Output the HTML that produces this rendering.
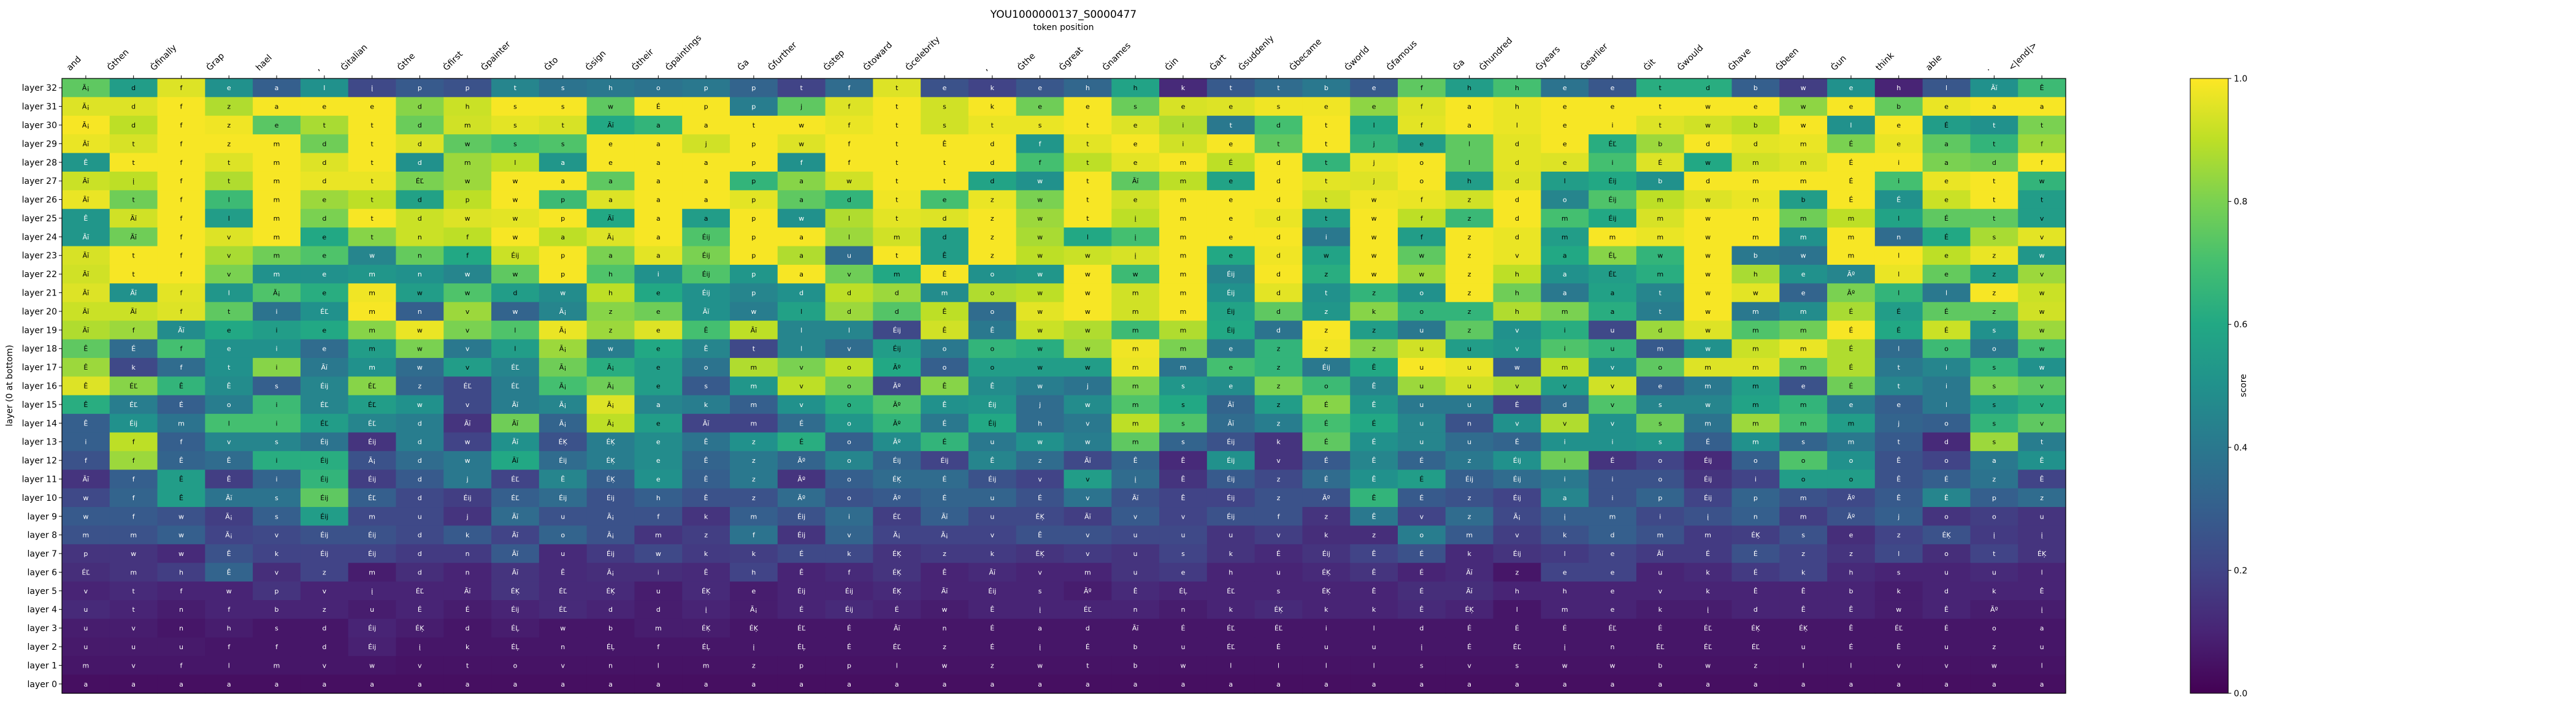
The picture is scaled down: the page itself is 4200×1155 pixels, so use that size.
<!DOCTYPE html>
<html><head><meta charset="utf-8"><title>YOU1000000137_S0000477</title>
<style>
html,body{margin:0;padding:0;background:#fff;}
svg{display:block;}
text{font-family:"DejaVu Sans","Liberation Sans",sans-serif;}
</style></head>
<body>
<svg id="chart" xmlns="http://www.w3.org/2000/svg" width="4200" height="1155" viewBox="0 0 4200 1155">
<text x="1734" y="29" font-size="17" text-anchor="middle">YOU1000000137_S0000477</text>
<text x="1734" y="49" font-size="14" text-anchor="middle">token position</text>
<text x="0" y="0" font-size="14" text-anchor="middle" transform="translate(20,629) rotate(-90)">layer (0 at bottom)</text>
<text x="0" y="0" font-size="14" text-anchor="middle" transform="translate(3662,629) rotate(-90)">score</text>
<g id="cells"></g>
<g id="xticks"></g>
<g id="yticks"></g>
<g id="cbar"></g>
</svg>
<script>
const tokens = ["and","Ġthen","Ġfinally","Ġrap","hael",",","Ġitalian","Ġthe","Ġfirst","Ġpainter","Ġto","Ġsign","Ġtheir","Ġpaintings","Ġa","Ġfurther","Ġstep","Ġtoward","Ġcelebrity",",","Ġthe","Ġgreat","Ġnames","Ġin","Ġart","Ġsuddenly","Ġbecame","Ġworld","Ġfamous","Ġa","Ġhundred","Ġyears","Ġearlier","Ġit","Ġwould","Ġhave","Ġbeen","Ġun","think","able",".","<|end|>"];
const layerNumbers = [32,31,30,29,28,27,26,25,24,23,22,21,20,19,18,17,16,15,14,13,12,11,10,9,8,7,6,5,4,3,2,1,0];
const colorbarTicks = [0.0,0.2,0.4,0.6,0.8,1.0];
const scores = [
[0.75,0.55,0.95,0.5,0.3,0.5,0.22,0.28,0.25,0.45,0.38,0.4,0.38,0.4, 0.32,0.2,0.35,0.95,0.25,0.2,0.27,0.33,0.58,0.12,0.28,0.35,0.4,0.28, 0.75,0.55,0.7,0.38,0.27,0.62,0.62,0.3,0.18,0.5,0.1,0.27,0.5,0.68],
[0.95,0.95,0.99,0.88,0.99,0.99,0.99,0.82,0.92,0.99,0.99,0.75,0.99,0.99, 0.42,0.75,0.95,0.99,0.93,0.99,0.78,0.99,0.77,0.94,0.95,0.98,0.98,0.83, 0.95,0.99,0.97,0.99,0.99,0.99,0.99,0.99,0.83,0.99,0.76,0.97,0.99,0.99],
[0.99,0.9,0.99,0.98,0.74,0.87,0.99,0.77,0.93,0.96,0.94,0.6,0.65,0.99, 0.99,0.99,0.97,0.99,0.93,0.97,0.97,0.99,0.95,0.88,0.4,0.7,0.99,0.6, 0.96,0.99,0.97,0.99,0.99,0.95,0.93,0.9,0.99,0.5,0.99,0.55,0.5,0.8],
[0.97,0.94,0.99,0.99,0.99,0.78,0.99,0.95,0.75,0.7,0.72,0.99,0.99,0.93, 0.99,0.95,0.99,0.99,0.99,0.99,0.52,0.96,0.99,0.93,0.99,0.75,0.99,0.65, 0.55,0.75,0.96,0.99,0.62,0.85,0.99,0.96,0.97,0.8,0.97,0.75,0.65,0.85],
[0.52,0.99,0.99,0.95,0.99,0.95,0.99,0.5,0.85,0.9,0.52,0.99,0.99,0.99, 0.99,0.5,0.99,0.99,0.99,0.99,0.7,0.9,0.96,0.99,0.9,0.99,0.65,0.97, 0.99,0.75,0.96,0.95,0.7,0.95,0.6,0.93,0.95,0.99,0.99,0.8,0.78,0.99],
[0.92,0.9,0.99,0.88,0.99,0.97,0.97,0.8,0.85,0.99,0.99,0.75,0.99,0.99, 0.65,0.82,0.93,0.99,0.99,0.58,0.5,0.99,0.75,0.9,0.58,0.99,0.96,0.95, 0.99,0.55,0.95,0.55,0.6,0.5,0.99,0.99,0.99,0.99,0.7,0.97,0.99,0.65],
[0.97,0.78,0.99,0.68,0.99,0.85,0.9,0.57,0.9,0.99,0.68,0.95,0.99,0.99, 0.96,0.75,0.65,0.98,0.7,0.97,0.8,0.99,0.93,0.99,0.99,0.99,0.93,0.98, 0.97,0.93,0.99,0.45,0.72,0.9,0.95,0.97,0.55,0.99,0.5,0.92,0.99,0.55],
[0.52,0.93,0.99,0.55,0.99,0.8,0.99,0.92,0.95,0.96,0.99,0.6,0.99,0.55, 0.99,0.5,0.88,0.96,0.95,0.99,0.85,0.99,0.9,0.99,0.99,0.97,0.55,0.99, 0.9,0.67,0.99,0.7,0.6,0.94,0.99,0.99,0.78,0.9,0.58,0.75,0.75,0.55],
[0.52,0.78,0.99,0.95,0.99,0.6,0.82,0.92,0.9,0.99,0.9,0.95,0.99,0.72, 0.99,0.99,0.85,0.93,0.55,0.99,0.87,0.6,0.7,0.99,0.99,0.99,0.4,0.99, 0.55,0.99,0.97,0.55,0.99,0.97,0.99,0.99,0.5,0.99,0.35,0.6,0.87,0.96],
[0.94,0.99,0.99,0.87,0.78,0.72,0.45,0.76,0.6,0.92,0.99,0.8,0.96,0.8, 0.99,0.88,0.35,0.99,0.55,0.99,0.9,0.92,0.94,0.99,0.6,0.98,0.58,0.99, 0.75,0.99,0.97,0.6,0.82,0.65,0.99,0.4,0.38,0.99,0.99,0.9,0.97,0.52],
[0.93,0.99,0.99,0.8,0.5,0.5,0.52,0.5,0.45,0.75,0.99,0.72,0.5,0.72, 0.52,0.99,0.78,0.6,0.99,0.5,0.52,0.99,0.68,0.99,0.45,0.99,0.62,0.99, 0.85,0.99,0.9,0.5,0.55,0.62,0.99,0.87,0.5,0.45,0.97,0.76,0.55,0.85],
[0.95,0.5,0.96,0.52,0.72,0.62,0.98,0.55,0.72,0.55,0.48,0.9,0.6,0.5, 0.45,0.5,0.9,0.85,0.48,0.88,0.9,0.99,0.93,0.99,0.5,0.96,0.5,0.65, 0.5,0.99,0.78,0.4,0.57,0.45,0.99,0.96,0.32,0.8,0.65,0.4,0.99,0.92],
[0.92,0.92,0.95,0.75,0.38,0.5,0.99,0.3,0.85,0.32,0.45,0.82,0.78,0.5, 0.42,0.57,0.85,0.73,0.9,0.35,0.96,0.99,0.93,0.99,0.58,0.75,0.52,0.82, 0.65,0.65,0.88,0.8,0.62,0.42,0.99,0.4,0.48,0.87,0.55,0.75,0.75,0.93],
[0.88,0.85,0.48,0.6,0.55,0.6,0.82,0.97,0.8,0.72,0.97,0.85,0.95,0.7, 0.9,0.45,0.45,0.22,0.93,0.4,0.92,0.88,0.68,0.88,0.6,0.38,0.99,0.55, 0.4,0.75,0.5,0.62,0.22,0.85,0.95,0.72,0.78,0.99,0.6,0.92,0.5,0.85],
[0.75,0.35,0.7,0.5,0.5,0.35,0.55,0.8,0.4,0.55,0.85,0.42,0.6,0.45, 0.22,0.45,0.35,0.55,0.4,0.65,0.62,0.85,0.98,0.8,0.4,0.65,0.98,0.82, 0.93,0.55,0.52,0.72,0.65,0.28,0.5,0.92,0.97,0.88,0.35,0.68,0.4,0.7],
[0.85,0.22,0.35,0.5,0.82,0.4,0.5,0.35,0.55,0.45,0.78,0.62,0.55,0.38, 0.88,0.8,0.9,0.6,0.3,0.55,0.55,0.55,0.97,0.38,0.7,0.65,0.4,0.6, 0.99,0.97,0.28,0.9,0.5,0.75,0.95,0.95,0.75,0.88,0.4,0.45,0.65,0.5],
[0.95,0.82,0.65,0.48,0.3,0.45,0.82,0.32,0.22,0.42,0.7,0.78,0.55,0.28, 0.52,0.9,0.78,0.22,0.82,0.48,0.42,0.38,0.8,0.52,0.48,0.8,0.68,0.45, 0.85,0.93,0.88,0.55,0.93,0.3,0.4,0.55,0.25,0.78,0.45,0.4,0.8,0.75],
[0.62,0.42,0.3,0.42,0.68,0.45,0.55,0.5,0.22,0.42,0.45,0.95,0.45,0.42, 0.3,0.5,0.62,0.72,0.5,0.52,0.35,0.48,0.72,0.6,0.32,0.55,0.82,0.52, 0.4,0.4,0.2,0.35,0.72,0.45,0.45,0.58,0.65,0.42,0.3,0.4,0.55,0.62],
[0.3,0.5,0.38,0.7,0.7,0.55,0.45,0.42,0.15,0.78,0.32,0.9,0.55,0.2, 0.2,0.35,0.52,0.65,0.4,0.6,0.35,0.4,0.9,0.72,0.35,0.42,0.7,0.6, 0.45,0.25,0.5,0.88,0.5,0.78,0.38,0.85,0.7,0.55,0.32,0.3,0.65,0.75],
[0.3,0.9,0.3,0.45,0.45,0.38,0.15,0.42,0.2,0.5,0.25,0.42,0.48,0.38, 0.5,0.62,0.3,0.48,0.65,0.4,0.5,0.42,0.75,0.32,0.25,0.15,0.75,0.5, 0.45,0.35,0.32,0.5,0.5,0.52,0.3,0.5,0.32,0.4,0.28,0.12,0.85,0.42],
[0.25,0.85,0.32,0.35,0.62,0.62,0.25,0.35,0.4,0.6,0.35,0.42,0.48,0.32, 0.4,0.32,0.45,0.32,0.2,0.45,0.35,0.22,0.32,0.12,0.5,0.15,0.28,0.45, 0.32,0.4,0.5,0.78,0.15,0.2,0.12,0.3,0.72,0.5,0.25,0.2,0.4,0.5],
[0.15,0.3,0.55,0.18,0.32,0.65,0.18,0.28,0.4,0.2,0.45,0.3,0.5,0.3, 0.4,0.15,0.3,0.35,0.35,0.25,0.2,0.55,0.35,0.15,0.28,0.22,0.35,0.5, 0.55,0.3,0.35,0.4,0.25,0.25,0.15,0.2,0.55,0.55,0.25,0.3,0.38,0.2],
[0.22,0.32,0.55,0.38,0.38,0.75,0.3,0.22,0.18,0.3,0.35,0.25,0.3,0.25, 0.25,0.35,0.25,0.28,0.32,0.32,0.25,0.38,0.25,0.2,0.2,0.25,0.25,0.65, 0.28,0.25,0.2,0.45,0.25,0.32,0.2,0.32,0.25,0.22,0.28,0.45,0.3,0.35],
[0.28,0.28,0.25,0.18,0.3,0.55,0.22,0.22,0.15,0.35,0.25,0.25,0.25,0.15, 0.3,0.25,0.35,0.18,0.3,0.22,0.22,0.18,0.28,0.2,0.25,0.25,0.15,0.4, 0.2,0.35,0.22,0.3,0.3,0.22,0.25,0.3,0.18,0.25,0.3,0.15,0.18,0.15],
[0.25,0.25,0.3,0.2,0.22,0.25,0.25,0.22,0.28,0.2,0.32,0.25,0.15,0.18, 0.38,0.15,0.32,0.2,0.2,0.2,0.25,0.25,0.22,0.22,0.15,0.18,0.13,0.13, 0.42,0.28,0.18,0.25,0.3,0.25,0.17,0.18,0.25,0.13,0.2,0.25,0.17,0.15],
[0.15,0.15,0.12,0.25,0.2,0.2,0.2,0.17,0.17,0.28,0.12,0.17,0.22,0.17, 0.18,0.22,0.22,0.15,0.17,0.17,0.15,0.17,0.15,0.2,0.15,0.12,0.15,0.2, 0.25,0.12,0.15,0.17,0.2,0.17,0.17,0.25,0.2,0.15,0.22,0.13,0.2,0.15],
[0.13,0.15,0.18,0.32,0.13,0.2,0.08,0.13,0.1,0.15,0.12,0.13,0.13,0.12, 0.2,0.1,0.12,0.15,0.1,0.12,0.1,0.1,0.15,0.17,0.1,0.1,0.12,0.15, 0.1,0.12,0.06,0.2,0.2,0.1,0.12,0.17,0.2,0.12,0.1,0.1,0.12,0.1],
[0.1,0.12,0.1,0.1,0.15,0.1,0.1,0.1,0.1,0.15,0.12,0.12,0.08,0.12, 0.08,0.1,0.1,0.12,0.1,0.1,0.1,0.08,0.12,0.1,0.1,0.1,0.1,0.1, 0.13,0.13,0.1,0.1,0.1,0.1,0.1,0.1,0.1,0.1,0.08,0.1,0.1,0.1],
[0.12,0.1,0.08,0.1,0.1,0.1,0.08,0.1,0.08,0.1,0.12,0.1,0.08,0.1, 0.08,0.1,0.12,0.1,0.08,0.1,0.1,0.1,0.1,0.08,0.1,0.12,0.1,0.1, 0.12,0.1,0.06,0.1,0.1,0.08,0.08,0.1,0.1,0.1,0.08,0.1,0.08,0.08],
[0.08,0.08,0.06,0.08,0.06,0.06,0.1,0.08,0.06,0.08,0.06,0.06,0.08,0.08, 0.06,0.06,0.06,0.06,0.06,0.06,0.06,0.06,0.06,0.06,0.06,0.06,0.06,0.06, 0.06,0.06,0.06,0.06,0.06,0.06,0.06,0.06,0.06,0.06,0.06,0.06,0.06,0.06],
[0.07,0.07,0.07,0.06,0.06,0.06,0.09,0.06,0.06,0.06,0.06,0.06,0.06,0.06, 0.06,0.06,0.06,0.06,0.06,0.06,0.06,0.06,0.06,0.06,0.06,0.06,0.06,0.06, 0.06,0.06,0.06,0.06,0.06,0.06,0.06,0.06,0.06,0.06,0.06,0.06,0.06,0.06],
[0.06,0.06,0.06,0.06,0.06,0.06,0.06,0.05,0.05,0.05,0.05,0.05,0.05,0.05, 0.05,0.05,0.05,0.05,0.05,0.05,0.05,0.05,0.05,0.05,0.05,0.05,0.05,0.05, 0.05,0.05,0.05,0.05,0.05,0.05,0.05,0.05,0.05,0.05,0.05,0.05,0.05,0.05],
[0.04,0.04,0.04,0.04,0.04,0.04,0.04,0.04,0.04,0.04,0.04,0.04,0.04,0.04, 0.04,0.04,0.04,0.04,0.04,0.04,0.04,0.04,0.04,0.04,0.04,0.04,0.04,0.04, 0.04,0.04,0.04,0.04,0.04,0.04,0.04,0.04,0.04,0.04,0.04,0.04,0.04,0.04]
];
const cellChars = [
"Ã¡ d f e a l į p p t s h o p p t f t e k e h h k t t b e f h h e e t d b w e h l Ãĭ Ê",
"Ã¡ d f z a e e d h s s w É p p j f t s k e e s e e s e e f a h e e t w e w e b e a a",
"Ã¡ d f z e t t d m s t Ãĭ a a t w f t s t s t e i t d t l f a l e i t w b w l e É t t",
"Ãĭ t f z m d t d w s s e a j p w f t Ê d f t e i e t t j e l d e ÉĽ b d d m É e a t f",
"Ê t f t m d t d m l a e a a p f f t t d f t e m É d t j o l d e i É w m m É i a d f",
"Ãĭ į f t m d t ÉĽ w w a a a a p a w t t d w t Ãĭ m e d t j o h d l Éij b d m m É i e t w",
"Ãĭ t f l m e t d p w p a a a p a d t e z w t e m e d t w f z d o Éij m w m b É É e t t",
"Ê Ãĭ f l m d t d w w p Ãĭ a a p w l t d z w t į m e d t w f z d m Éij m w m m m l É t v",
"Ãĭ Ãĭ f v m e t n f w a Ã¡ a Éij p a l m d z w l į m e d i w f z d m m m w m m m n É s v",
"Ãĭ t f v m e w n f Éij p a a Éij p a u t Ê z w w į m e d w w w z v a ÉĻ w w b w m l e z w",
"Ãĭ t f v m e m n w w p h i Éij p a v m Ê o w w w m Éij d z w w z h a ÉĽ m w h e Ãº l e z v",
"Ãĭ Ãĭ f l Ã¡ e m w w d w h e Éij p d d d m o w w m m Éij d t z o z h a a t w w e Ãº l l z w",
"Ãĭ Ãĭ f t i ÉĽ m n v w Ã¡ z e Ãĭ w l d d Ê o w w m m Éij d z k o z h m a t w m m É É É z w",
"Ãĭ f Ãĭ e i e m w v l Ã¡ z e Ê Ãĭ l l Éij Ê Ê w w m m Éij d z z u z v i u d w m m É É É s w",
"Ê É f e i e m w v l Ã¡ w e Ê t l v Éij o o w w m m e z z z u u v i u m w m m É l o o w",
"Ê k f t i Ãĭ m w v ÉĽ Ã¡ Ã¡ e o m v o Ãº o o w w m m e z Éij Ê u u w m v o m m m É t i s w",
"Ê ÉĽ Ê Ê s Éij ÉĽ z ÉĽ ÉĽ Ã¡ Ã¡ e s m v o Ãº Ê Ê w j m s e z o Ê u u v v v e m m e É t i s v",
"Ê ÉĽ É o i ÉĽ ÉĽ w v Ãĭ Ã¡ Ã¡ a k m v o Ãº Ê Éij j w m s Ãĭ z É Ê u u Ė d v s w m m e e l s v",
"Ê Éij m l i ÉĽ ÉĽ d Ãĭ Ãĭ Ã¡ Ã¡ e Ãĭ m É o Ãº É Éij h v m s Ãĭ z É É u n v v v s m m m m j o s v",
"i f f v s Éij Éij d w Ãĭ ÉĶ ÉĶ e Ê z É o Ãº É u w w m s Éij k É É u u É i i s É m s m t d s t",
"f f Ê Ê i Éij Ã¡ d w Ãĭ Éij ÉĶ e Ê z Ãº o Éij Éij Ê z Ãĭ Ê Ê Éij v É Ê É z Éij i É o Éij o o o Ê o a Ê",
"Ãĭ f Ê Ê i Éij Éij d j ÉĽ Ê ÉĶ e Ê z Ãº o ÉĶ É Éij v v į Ê Éij z É Ê É Éij Éij i i o Éij i o o Ê É z Ê",
"w f Ê Ãĭ s Éij ÉĽ d Éij ÉĽ Éij Éij h Ê z Ãº o Ãº É u É v Ãĭ Ê Éij z Ãº Ê É z Éij a i p Éij p m Ãº Ê Ê p z",
"w f w Ã¡ s Éij m u j Ãĭ u Ã¡ f k m Éij i ÉĽ Ãĭ u ÉĶ Ãĭ v v Éij f z Ê v z Ã¡ į m i į n m Ãº j o o u",
"m m w Ã¡ v Éij Éij d k Ãĭ o Ã¡ m z f Éij v Ã¡ Ã¡ v Ê v u u u v k z o m v k d m m ÉĶ s e z ÉĶ į į",
"p w w Ê k Éij Éij d n Ãĭ u Éij w k k É k ÉĶ z k ÉĶ v u s k É Éij Ê É k Éij l e Ãĭ É É z z l o t ÉĶ",
"ÉĽ m h Ê v z m d n Ãĭ Ê Ã¡ i Ê h Ê f ÉĶ Ê Ãĭ v m u e h u ÉĶ Ê É Ãĭ z e e u k É k h s u u l",
"v t f w p v į ÉĽ Ãĭ ÉĶ ÉĽ ÉĶ u ÉĶ e Éij Éij ÉĶ Ãĭ Éij s Ãº Ê ÉĻ ÉĽ s ÉĶ Ê É Ãĭ h h e v k Ê Ê b k d k Ê",
"u t n f b z u É É Éij ÉĽ d d į Ã¡ É Éij É w Ê į ÉĽ n n k ÉĶ k k Ê ÉĶ l m e k į d Ê Ê w Ê Ãº į",
"u v n h s d Éij ÉĶ d ÉĻ w b m ÉĶ ÉĶ ÉĽ É Ãĭ n É a d Ãĭ É ÉĽ ÉĽ i l d É É É ÉĽ É ÉĽ ÉĶ ÉĶ Ê ÉĽ É o a",
"u u u f f d Éij į k ÉĻ n ÉĻ f ÉĻ į ÉĻ É ÉĽ z É į É b u ÉĽ É u u į É ÉĽ į n ÉĽ ÉĽ ÉĽ u É Ê u z u",
"m v f l m v w v t o v n l m z p p l w z w t b w l l l l s v s w w b w z l l v v w l",
"a a a a a a a a a a a a a a a a a a a a a a a a a a a a a a a a a a a a a a a a a a"
];

const NS = "http://www.w3.org/2000/svg";
const X0 = 101, X1 = 3368, Y0 = 128, Y1 = 1131;
const nCols = tokens.length, nRows = layerNumbers.length;
const cw = (X1 - X0) / nCols, ch = (Y1 - Y0) / nRows;
function xPos(i){ return X0 + i * cw; }
function yPos(r){ return Y0 + r * ch; }
const VIR = ["#440154","#482475","#414487","#355f8d","#2a788e","#21918c","#22a884","#44bf70","#7ad151","#bddf26","#fde725"];
function hex(h){ return [parseInt(h.substr(1,2),16),parseInt(h.substr(3,2),16),parseInt(h.substr(5,2),16)]; }
function viridis(v){
  v = Math.max(0, Math.min(1, v));
  const p = v * 10, i = Math.min(9, Math.floor(p)), t = p - i;
  const a = hex(VIR[i]), b = hex(VIR[i+1]);
  return "rgb(" + a.map((c,k)=>Math.round(c + (b[k]-c)*t)).join(",") + ")";
}
function mk(tag, attrs){ const e = document.createElementNS(NS, tag); for (const k in attrs) e.setAttribute(k, attrs[k]); return e; }

const gCells = document.getElementById("cells");
scores.forEach((row, r) => {
  const chars = cellChars[r].split(" ");
  row.forEach((v, c) => {
    const rect = mk("rect", {x: xPos(c), y: yPos(r), width: cw + 0.6, height: ch + 0.6, fill: viridis(v)});
    
    
    gCells.appendChild(rect);
    const t = mk("text", {x: xPos(c) + cw/2, y: yPos(r) + ch/2 + 4, "font-size": 11, "text-anchor": "middle", fill: v > 0.53 ? "#000" : "#fff"});
    
    
    t.textContent = chars[c] || "";
    gCells.appendChild(t);
  });
});
const frame = mk("rect", {x: X0, y: Y0, width: X1 - X0, height: Y1 - Y0, fill: "none", stroke: "#000", "stroke-width": 1.2});


gCells.appendChild(frame);

const gx = document.getElementById("xticks");
tokens.forEach((tok, i) => {
  const tx = xPos(i) + cw/2;
  const tick = mk("line", {x1: tx, x2: tx, y1: Y0, y2: Y0 - 5, stroke: "#000", "stroke-width": 1});
  
  
  gx.appendChild(tick);
  const t = mk("text", {"font-size": 14, "text-anchor": "start"});
  
  
  t.textContent = tok;
  gx.appendChild(t);
  const L = t.getComputedTextLength ? t.getComputedTextLength() : tok.length * 8;
  const x0 = tx - L * 0.7071 - 7, y0 = 116;
  t.setAttribute("x", x0); t.setAttribute("y", y0);
  t.setAttribute("transform", "rotate(-45 " + x0 + " " + y0 + ")");
});

const gy = document.getElementById("yticks");
layerNumbers.forEach((n, r) => {
  const ty = yPos(r) + ch/2;
  const tick = mk("line", {x1: X0, x2: X0 - 5, y1: ty, y2: ty, stroke: "#000", "stroke-width": 1});
  
  
  gy.appendChild(tick);
  const t = mk("text", {x: X0 - 8, y: ty + 5, "font-size": 14, "text-anchor": "end"});
  
  
  t.textContent = "layer " + n;
  gy.appendChild(t);
});

const gc = document.getElementById("cbar");
const CX0 = 3571, CX1 = 3633;
const defs = mk("defs", {});
const grad = mk("linearGradient", {id: "vgrad", x1: 0, y1: 1, x2: 0, y2: 0});
VIR.forEach((c, i) => { grad.appendChild(mk("stop", {offset: (i*10) + "%", "stop-color": c})); });
defs.appendChild(grad); gc.appendChild(defs);
const cb = mk("rect", {x: CX0, y: Y0, width: CX1 - CX0, height: Y1 - Y0, fill: "url(#vgrad)", stroke: "#000", "stroke-width": 1});


gc.appendChild(cb);
function cbY(v){ return Y1 - v * (Y1 - Y0); }
colorbarTicks.forEach(v => {
  const y = cbY(v);
  const tick = mk("line", {x1: CX1, x2: CX1 + 5, y1: y, y2: y, stroke: "#000", "stroke-width": 1});
  
  
  gc.appendChild(tick);
  const t = mk("text", {x: CX1 + 9, y: y + 5, "font-size": 14});
  
  
  t.textContent = v.toFixed(1);
  gc.appendChild(t);
});
</script>
</body></html>
